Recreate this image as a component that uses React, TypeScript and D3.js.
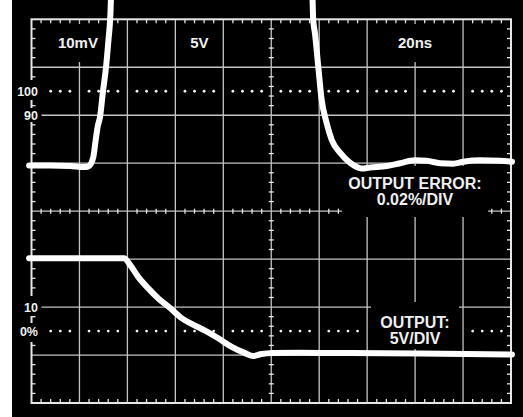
import React from "react";
import * as d3 from "d3";

// ---- Data (time in ns at 20ns/div, value in screen divisions, 0 = centre line) ----
const errSeg1T = [-1.0, 7.7, 16.1, 21.9, 23.6, 24.8, 25.8, 26.8, 27.6, 28.6, 29.8, 31.1, 32.1, 32.9, 33.2];
const errSeg1V = [0.95, 0.95, 0.94, 0.92, 0.93, 0.99, 1.13, 1.49, 1.76, 1.97, 2.49, 3.01, 3.57, 4.09, 4.51];
const errSeg2T = [117.2, 117.5, 118.2, 119.6, 121.0, 123.1, 125.2, 128.7, 132.8, 137.7, 141.2, 148.2, 153.7, 159.9, 164.8, 170.4, 175.9, 180.1, 187.1, 195.4, 200.4];
const errSeg2V = [4.51, 3.99, 3.72, 3.02, 2.33, 1.84, 1.49, 1.22, 1.01, 0.89, 0.91, 0.94, 1.0, 1.06, 1.05, 1.0, 0.99, 1.03, 1.06, 1.05, 1.03];
const outT = [-1.0, 38.6, 41.1, 44.5, 48.7, 52.9, 57.8, 62.6, 66.8, 72.4, 77.9, 83.5, 89.1, 92.5, 96.0, 100.9, 112.0, 132.8, 162.0, 200.4];
const outV = [-0.98, -0.98, -1.12, -1.37, -1.61, -1.82, -2.02, -2.23, -2.35, -2.49, -2.65, -2.83, -2.96, -3.02, -2.98, -2.96, -2.95, -2.96, -2.97, -2.99];

const topLabels = ["10mV", "5V", "20ns"];
const topLabelDiv = [1, 3.5, 8]; // x position in divisions
const leftLabels = ["100", "90", "10", "0%"];
const leftLabelDiv = [2.5, 2, -2, -2.5];
const dottedDiv = [2.5, -2.5];
const errLabel = ["OUTPUT ERROR:", "0.02%/DIV"];
const outLabel = ["OUTPUT:", "5V/DIV"];

const W = 523;
const H = 417;
const X0 = 31.5, X1 = 511, Y0 = 19.3, Y1 = 403;

export default function App() {
  const x = d3.scaleLinear().domain([0, 200]).range([X0, X1]);
  const y = d3.scaleLinear().domain([-4, 4]).range([Y1, Y0]);
  const line = d3
    .line<[number, number]>()
    .x((d) => x(d[0]))
    .y((d) => y(d[1]))
    .curve(d3.curveMonotoneX);
  const zip = (a: number[], b: number[]) => a.map((t, i) => [t, b[i]] as [number, number]);

  const majX = d3.range(0, 201, 20);
  const majY = d3.range(-4, 4.01, 1);
  const minX = d3.range(0, 201, 4).filter((t) => t % 20 !== 0);
  const minY = d3.range(-20, 21, 1).filter((v) => v % 5 !== 0).map((v) => v / 5);

  const font = "'Liberation Sans', Arial, Helvetica, sans-serif";
  const gridCol = "#c4c4c4";
  const borderCol = "#e6e6e6";

  return (
    <svg width={W} height={H} style={{ position: "absolute", left: 0, top: 0 }} fontFamily={font}>
      <defs>
        <clipPath id="scr">
          <rect x={12} y={0} width={W - 12} height={H} />
        </clipPath>
      </defs>
      <rect x={0} y={0} width={W} height={H} fill="#fff" />
      <rect x={12} y={0} width={W - 12} height={H} fill="#000" />

      {/* inner grid */}
      {majX.slice(1, -1).map((t) => (
        <line key={"vx" + t} x1={x(t)} x2={x(t)} y1={Y0} y2={Y1} stroke={gridCol} strokeWidth={1.3} />
      ))}
      {majY.slice(1, -1).map((v) => (
        <line key={"hy" + v} x1={X0} x2={X1} y1={y(v)} y2={y(v)} stroke={gridCol} strokeWidth={1.3} />
      ))}
      {/* border */}
      <rect x={X0} y={Y0} width={X1 - X0} height={Y1 - Y0} fill="none" stroke={borderCol} strokeWidth={2} />

      {/* minor ticks */}
      {minX.map((t) => (
        <g key={"tx" + t} stroke={borderCol} strokeWidth={1.3}>
          <line x1={x(t)} x2={x(t)} y1={Y0} y2={Y0 + 4} />
          <line x1={x(t)} x2={x(t)} y1={Y1} y2={Y1 - 4} />
          <line x1={x(t)} x2={x(t)} y1={y(0) - 2.5} y2={y(0) + 2.5} />
        </g>
      ))}
      {minY.map((v) => (
        <g key={"ty" + v} stroke={borderCol} strokeWidth={1.3}>
          <line x1={X0} x2={X0 + 4} y1={y(v)} y2={y(v)} />
          <line x1={X1} x2={X1 - 4} y1={y(v)} y2={y(v)} />
          <line x1={x(100) - 2.5} x2={x(100) + 2.5} y1={y(v)} y2={y(v)} />
        </g>
      ))}

      {/* dotted reference lines */}
      {dottedDiv.map((v) =>
        minX.map((t) => <circle key={"d" + v + "_" + t} cx={x(t)} cy={y(v)} r={1.4} fill="#f2f2f2" />)
      )}

      {/* label backgrounds */}
      <g fill="#000">
        <rect x={50} y={24} width={56} height={38} />
        <rect x={390} y={24} width={51} height={38} />
        <rect x={13} y={80} width={31} height={20} />
        <rect x={13} y={108} width={28.5} height={14} />
        <rect x={13} y={296} width={28.5} height={20} />
        <rect x={13} y={323} width={31} height={19} />
        <rect x={342} y={166} width={146} height={51} />
        <rect x={371} y={302} width={88} height={47} />
      </g>

      {/* traces */}
      <g clipPath="url(#scr)" fill="none" stroke="#fff" strokeWidth={6} strokeLinecap="round" strokeLinejoin="round">
        <path d={line(zip(errSeg1T, errSeg1V)) || ""} />
        <path d={line(zip(errSeg2T, errSeg2V)) || ""} />
        <path d={line(zip(outT, outV)) || ""} />
      </g>

      {/* text */}
      <g fill="#f0f0f0" fontWeight="bold">
        {topLabels.map((s, i) => (
          <text key={s} x={x(topLabelDiv[i] * 20) - (i === 0 ? 1.5 : 0)} y={48.3} fontSize={15} textAnchor="middle">
            {s}
          </text>
        ))}
        {leftLabels.map((s, i) => (
          <text key={s} x={38} y={y(leftLabelDiv[i]) + 4.5} fontSize={12.5} textAnchor="end">
            {s}
          </text>
        ))}
        {errLabel.map((s, i) => (
          <text key={s} x={415} y={189.3 + i * 15.7} fontSize={16} textAnchor="middle">
            {s}
          </text>
        ))}
        {outLabel.map((s, i) => (
          <text key={s} x={415} y={328.3 + i * 15.7} fontSize={16} textAnchor="middle">
            {s}
          </text>
        ))}
      </g>
    </svg>
  );
}
